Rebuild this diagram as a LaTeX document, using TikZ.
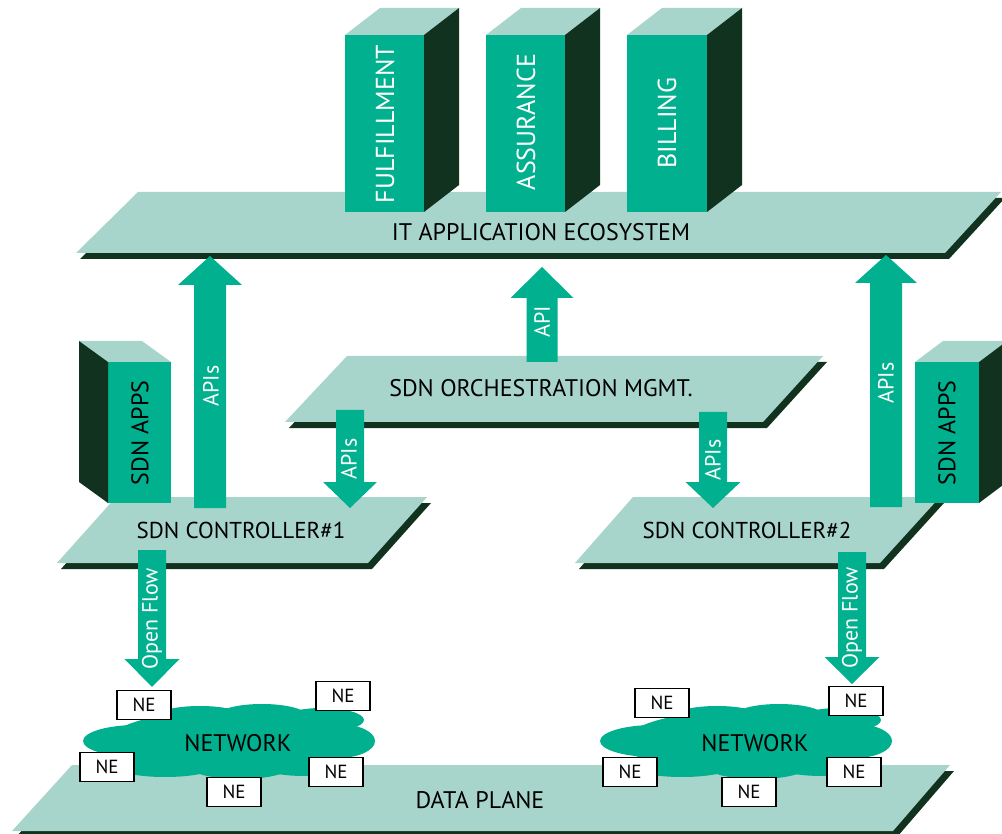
\documentclass[tikz,border=0pt]{standalone}
\usepackage{fontspec}
\setmainfont{PT Sans}
\definecolor{lightg}{HTML}{A8D5CB}
\definecolor{midg}{HTML}{00B08E}
\definecolor{darkg}{HTML}{10321E}
\tikzset{
  lbl/.style={font=\fontsize{24}{28}\selectfont, text=black, inner sep=0pt},
  clbl/.style={font=\fontsize{23}{27}\selectfont, text=black, inner sep=0pt},
  vlbl/.style={rotate=90, font=\fontsize{26}{30}\selectfont, text=white, inner sep=0pt},
  albl/.style={rotate=90, font=\fontsize{22}{26}\selectfont, text=white, inner sep=0pt},
  appslbl/.style={rotate=90, font=\fontsize{24}{28}\selectfont, text=black, inner sep=0pt},
  nebox/.style={draw=black, line width=1.5pt, fill=white, minimum width=54pt, minimum height=29pt, inner sep=0pt, font=\fontsize{19}{22}\selectfont},
  planeface/.style={fill=lightg},
  planeshadow/.style={fill=darkg},
  arrowbody/.style={fill=midg},
  cloudbody/.style={fill=midg},
}
% parallelogram layer with drop shadow: four corners TL TR BR BL
\newcommand{\layerplane}[8]{%
  \begin{scope}[shift={(4,6)}]
    \fill[planeshadow] (#1,#2) -- (#3,#4) -- (#5,#6) -- (#7,#8) -- cycle;
  \end{scope}
  \fill[planeface] (#1,#2) -- (#3,#4) -- (#5,#6) -- (#7,#8) -- cycle;}
% block arrow: x, tail y, head base y, tip y, half shaft, half head
\newcommand{\blockarrow}[6]{%
  \fill[arrowbody] ({#1-#5},#2) -- ({#1-#5},#3) -- ({#1-#6},#3) -- (#1,#4)
    -- ({#1+#6},#3) -- ({#1+#5},#3) -- ({#1+#5},#2) -- cycle;}
% 3D block: x, y (front top-left), w, h, dx, dy, x of side edge
\newcommand{\appblock}[7]{%
  \fill[midg] (#1,#2) rectangle ++(#3,#4);
  \fill[lightg] (#1,#2) -- ({#1+#3},#2) -- ({#1+#3+(#5)},{#2+(#6)}) -- ({#1+(#5)},{#2+(#6)}) -- cycle;
  \fill[darkg] (#7,#2) -- ({#7+(#5)},{#2+(#6)}) -- ({#7+(#5)},{#2+#4+(#6)}) -- (#7,{#2+#4}) -- cycle;}
% network cloud, shifted horizontally by #1
\newcommand{\netcloud}[1]{%
  \begin{scope}[shift={(#1,0)}]
    \fill[cloudbody] (230,742) ellipse [x radius=122pt, y radius=32pt];
    \fill[cloudbody] (137,741) ellipse [x radius=54pt, y radius=16pt];
    \fill[cloudbody] (338,741) ellipse [x radius=37pt, y radius=17pt];
    \fill[cloudbody] (200,719) ellipse [x radius=48pt, y radius=13pt];
    \fill[cloudbody] (262,716) ellipse [x radius=45pt, y radius=12pt];
    \fill[cloudbody] (322,720) ellipse [x radius=42pt, y radius=12pt];
    \fill[cloudbody] (165,764) ellipse [x radius=55pt, y radius=13pt];
    \fill[cloudbody] (240,768) ellipse [x radius=48pt, y radius=11pt];
    \fill[cloudbody] (305,764) ellipse [x radius=50pt, y radius=12pt];
  \end{scope}}
\begin{document}
\begin{tikzpicture}[x=1pt,y=-1pt]
\useasboundingbox (0,0) rectangle (1002,834);
\clip (0,0) rectangle (1002,834);

% ---------- data plane ----------
\layerplane{72}{765}{950}{765}{893}{831}{12}{831}
\node[lbl] (datalbl) at (480,800) {DATA PLANE};

% ---------- networks ----------
\netcloud{0}
\netcloud{517}
\node[lbl] (net1) at (238,743) {NETWORK};
\node[lbl] (net2) at (755,743) {NETWORK};

\node[nebox] (ne1a) at (144,705) {NE};
\node[nebox] (ne1b) at (343,696) {NE};
\node[nebox] (ne1c) at (107,767) {NE};
\node[nebox] (ne1d) at (234,792) {NE};
\node[nebox] (ne1e) at (336,772) {NE};

\node[nebox] (ne2a) at (662,703) {NE};
\node[nebox] (ne2b) at (856,701) {NE};
\node[nebox] (ne2c) at (630,772) {NE};
\node[nebox] (ne2d) at (749,792) {NE};
\node[nebox] (ne2e) at (854,772) {NE};

% ---------- controllers ----------
\layerplane{116}{497}{427}{497}{368}{563}{57}{563}
\layerplane{633}{497}{940}{497}{880}{563}{575}{563}
\node[clbl] (ctrl1) at (241,530) {SDN CONTROLLER\#1};
\node[clbl] (ctrl2) at (747,530) {SDN CONTROLLER\#2};

% Open Flow arrows
\blockarrow{152}{550}{659}{687}{14}{27.5}
\node[albl] (of1) at (152,619) {Open Flow};
\blockarrow{852}{552}{657}{684}{14}{27.5}
\node[albl] (of2) at (852,618) {Open Flow};

% ---------- orchestration ----------
\layerplane{347}{356}{823}{356}{763}{422}{285}{422}
\node[lbl] (orch) at (541,388) {SDN ORCHESTRATION MGMT.};

% APIs down arrows
\blockarrow{350}{410}{482}{508}{14}{27}
\node[albl] (apid1) at (349,459) {APIs};
\blockarrow{713}{412}{482}{508}{14}{27.5}
\node[albl] (apid2) at (713,460) {APIs};

% SDN APPS blocks
\appblock{108}{362}{63}{141}{-29}{-21}{108}
\node[appslbl] (apps1) at (140,433) {SDN APPS};
\appblock{915}{362}{64}{141}{28}{-21}{979}
\node[appslbl] (apps2) at (947,433) {SDN APPS};

% ---------- IT application ecosystem ----------
\layerplane{138}{192}{1001}{192}{945}{253}{76}{253}
\node[lbl] (itlbl) at (541,232) {IT APPLICATION ECOSYSTEM};

\appblock{345}{35}{79}{177}{35}{-27}{424}
\node[vlbl] (fulf) at (385,124) {FULFILLMENT};
\appblock{486}{35}{79}{177}{35}{-27}{565}
\node[vlbl] (assu) at (526,122) {ASSURANCE};
\appblock{627}{35}{80}{177}{35}{-27}{707}
\node[vlbl] (bill) at (667,123) {BILLING};

% big APIs arrows up
\blockarrow{210}{508}{285}{256}{16}{32}
\node[albl] (apiu1) at (211,386) {APIs};
\blockarrow{886}{507}{283}{255}{16}{31}
\node[albl] (apiu2) at (886,383) {APIs};

% API arrow up from orchestration
\blockarrow{542}{362}{298}{267}{15.5}{31.5}
\node[albl] (apim) at (542,322) {API};

\end{tikzpicture}
\end{document}
